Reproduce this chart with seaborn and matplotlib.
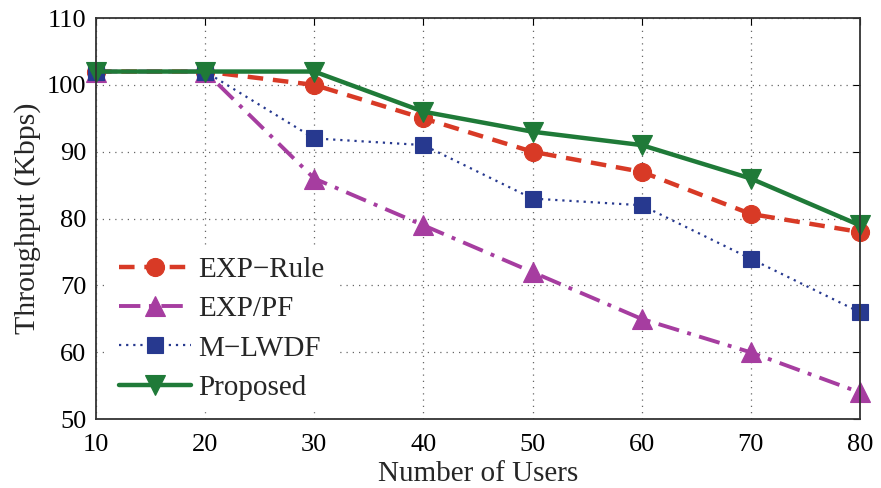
import matplotlib
matplotlib.use("Agg")
import matplotlib.pyplot as plt
import seaborn as sns
import pandas as pd

users = [10, 20, 30, 40, 50, 60, 70, 80]
exp_rule = [102, 102, 100, 95, 90, 87, 80.7, 78]
exp_pf = [102, 102, 86, 79, 72, 65, 60, 54]
m_lwdf = [102, 102, 92, 91, 83, 82, 74, 66]
proposed = [102, 102, 102, 96, 93, 91, 86, 79]

series_names = ["EXP\u2212Rule", "EXP/PF", "M\u2212LWDF", "Proposed"]
series_vals = [exp_rule, exp_pf, m_lwdf, proposed]

sns.set_theme(style="white")
plt.rcParams['font.family'] = ['Liberation Serif', 'DejaVu Serif']

styles = [
    dict(color="#d83a26", linestyle=(0, (3.5, 2.2)), marker="o", markersize=13, linewidth=3.2),
    dict(color="#a63da0", linestyle=(0, (5.5, 2.2, 1, 2.2)), marker="^", markersize=14, linewidth=2.8),
    dict(color="#27398f", linestyle=(0, (1, 2.2)), marker="s", markersize=11, linewidth=1.6),
    dict(color="#1f7a38", linestyle="-", marker="v", markersize=14, linewidth=3.2),
]

fig = plt.figure(figsize=(8.81, 4.88), dpi=100)
ax = fig.add_axes([0.109, 0.141, 0.867, 0.822])

for name, vals, st in zip(series_names, series_vals, styles):
    df = pd.DataFrame({"users": users, "thr": vals})
    sns.lineplot(data=df, x="users", y="thr", ax=ax, label=name,
                 markeredgecolor=st["color"], markeredgewidth=0.8,
                 clip_on=False, **st)

ax.set_xlim(10, 80)
ax.set_ylim(50, 110)
ax.set_xticks(users)
ax.set_yticks(range(50, 111, 10))
ax.grid(True, color="#666666", linestyle=(0, (1, 4)), linewidth=0.9)
ax.tick_params(direction="in", length=5, width=0.8, top=True, right=True,
               labelsize=19, colors="black")
ax.tick_params(axis="x", pad=10.5)
ax.tick_params(axis="y", pad=7)
for sp in ax.spines.values():
    sp.set_color("#333333")
    sp.set_linewidth(1.3)
ax.set_xlabel("Number of Users", fontsize=21, labelpad=3.5)
ax.set_ylabel("Throughput (Kbps)", fontsize=21.5, labelpad=4)

leg = ax.legend(loc="lower left", bbox_to_anchor=(0.0, -0.0125), frameon=True,
                fontsize=21, handlelength=2.45, handletextpad=0.25,
                borderaxespad=0.45, borderpad=0.35, labelspacing=0.44)
leg.get_frame().set_edgecolor("white")
leg.get_frame().set_facecolor("white")
leg.get_frame().set_alpha(1)
leg.get_frame().set_boxstyle("square", pad=0)

fig.savefig("out.png", dpi=100)
